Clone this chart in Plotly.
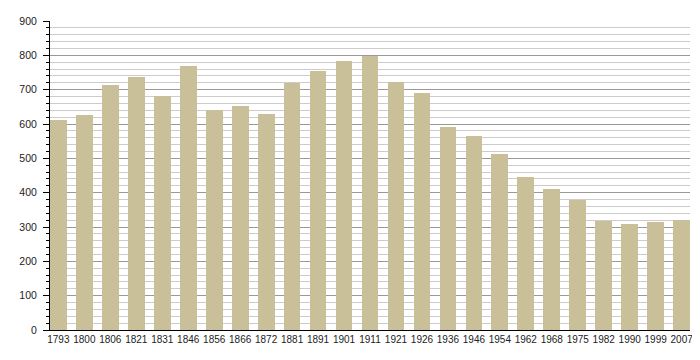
import plotly.graph_objects as go

years = ["1793", "1800", "1806", "1821", "1831", "1846", "1856", "1866", "1872", "1881",
         "1891", "1901", "1911", "1921", "1926", "1936", "1946", "1954", "1962", "1968",
         "1975", "1982", "1990", "1999", "2007"]
population = [612, 625, 713, 738, 681, 769, 641, 652, 629, 720,
              755, 783, 798, 722, 690, 591, 565, 512, 446, 411,
              379, 318, 309, 315, 320]
y_ticks = [0, 100, 200, 300, 400, 500, 600, 700, 800, 900]

bar_w = 0.645
fig = go.Figure(go.Bar(
    x=list(range(len(years))), y=population, width=bar_w,
    marker=dict(color="#c9c09a", line=dict(width=0)),
))
fig.update_layout(
    width=692, height=352,
    margin=dict(l=42, r=10, t=13, b=30, autoexpand=False),
    paper_bgcolor="white", plot_bgcolor="white",
    font=dict(family="Liberation Sans, Arial, sans-serif", size=10, color="#222"),
    showlegend=False,
    bargap=0,
)
fig.update_xaxes(
    range=[-bar_w / 2, len(years) - 1 + bar_w / 2],
    tickmode="array", tickvals=list(range(len(years))), ticktext=years,
    tickangle=0, automargin=False,
    showgrid=False, showline=True, linecolor="black", linewidth=1,
    ticks="", zeroline=False, tickfont=dict(size=10),
)
fig.update_yaxes(
    range=[0, 900], tickmode="array", tickvals=y_ticks, automargin=False,
    showgrid=True, gridcolor="#999999", gridwidth=1,
    showline=True, linecolor="black", linewidth=1,
    ticks="outside", ticklen=6, tickcolor="black", ticklabelstandoff=4,
    zeroline=False, tickfont=dict(size=10.5),
    minor=dict(dtick=20, showgrid=True, gridcolor="#cccccc", gridwidth=1,
               ticks="outside", ticklen=3, tickcolor="black"),
)
fig.write_html("out.html")
